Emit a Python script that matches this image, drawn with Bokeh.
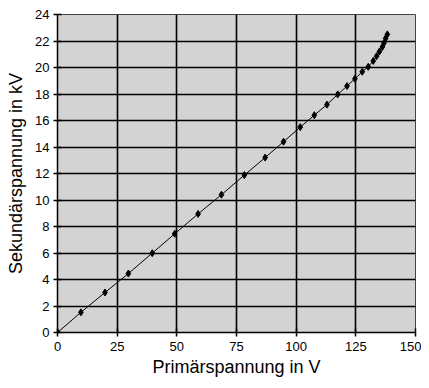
from bokeh.plotting import figure
from bokeh.models import FixedTicker, Range1d
from bokeh.embed import file_html
from bokeh.resources import INLINE

# Data
primary_v = [0, 9.8, 19.9, 29.7, 39.7, 49.1, 58.9, 68.7, 78.3, 87.0, 94.7, 101.7,
             107.6, 112.9, 117.4, 121.3, 124.6, 127.7, 130.2, 132.3, 133.7, 134.9,
             136.1, 136.8, 137.5, 138.2]
secondary_kv = [0, 1.52, 3.02, 4.45, 5.99, 7.45, 8.95, 10.4, 11.88, 13.2, 14.4, 15.5,
                16.4, 17.2, 17.97, 18.6, 19.15, 19.68, 20.05, 20.5, 20.85, 21.2,
                21.55, 21.85, 22.2, 22.5]
x_ticks = [0, 25, 50, 75, 100, 125, 150]
y_ticks = [0, 2, 4, 6, 8, 10, 12, 14, 16, 18, 20, 22, 24]

FONT = "Liberation Sans"

p = figure(width=421, height=380, output_backend="svg", toolbar_location=None,
           x_range=Range1d(0, 150), y_range=Range1d(0, 24),
           min_border_left=57, min_border_right=6, min_border_top=14, min_border_bottom=48)

p.background_fill_color = "#D3D3D3"
p.border_fill_color = "white"
p.outline_line_color = "#444444"
p.outline_line_width = 1

for ax, ticks in ((p.xaxis[0], x_ticks), (p.yaxis[0], y_ticks)):
    ax.ticker = FixedTicker(ticks=ticks)
    ax.minor_tick_line_color = None
    ax.major_tick_in = 4
    ax.major_tick_out = 4
    ax.major_tick_line_color = "black"
    ax.major_tick_line_width = 1.5
    ax.axis_line_color = "black"
    ax.axis_line_width = 1.5
    ax.major_label_text_font = FONT
    ax.major_label_text_font_size = "13px"
    ax.major_label_text_color = "black"
    ax.axis_label_text_font = FONT
    ax.axis_label_text_font_size = "18px"
    ax.axis_label_text_font_style = "normal"
    ax.axis_label_text_color = "black"

p.xaxis.axis_label = "Primärspannung in V"
p.yaxis.axis_label = "Sekundärspannung in kV"
p.xaxis.major_label_standoff = 5
p.yaxis.major_label_standoff = 4
p.xaxis.axis_label_standoff = 3
p.yaxis.axis_label_standoff = 6

p.xgrid.ticker = FixedTicker(ticks=x_ticks)
p.ygrid.ticker = FixedTicker(ticks=y_ticks)
p.grid.grid_line_color = "black"
p.grid.grid_line_width = 1.6

p.line(primary_v, secondary_kv, line_color="black", line_width=1)
p.scatter(primary_v, secondary_kv, marker="diamond", size=7,
          fill_color="black", line_color="black")

open("out.html", "w").write(file_html(p, INLINE))
